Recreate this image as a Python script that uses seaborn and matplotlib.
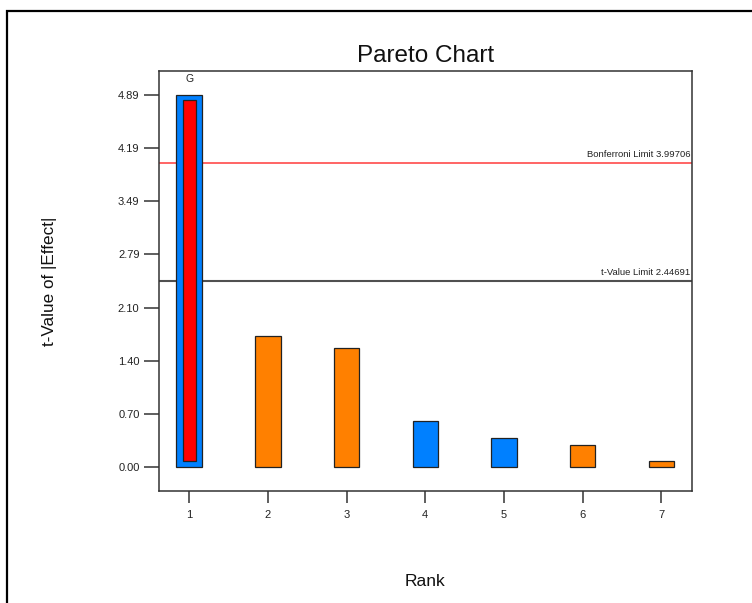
import numpy as np
import pandas as pd
import matplotlib
matplotlib.use("Agg")
import matplotlib.pyplot as plt
from matplotlib.patches import Rectangle
import seaborn as sns

# Effects ranked by |t-value|
ranks = ["1", "2", "3", "4", "5", "6", "7"]
t_values = [4.89, 1.72, 1.56, 0.61, 0.39, 0.29, 0.08]
effect_sign = ["neg", "pos", "pos", "neg", "neg", "pos", "pos"]
term_labels = ["G", "", "", "", "", "", ""]
selected = [True, False, False, False, False, False, False]

bonferroni_limit = 3.99706
t_value_limit = 2.44691

sign_colors = {"pos": "#FF8000", "neg": "#0080FF"}

df = pd.DataFrame({"Rank": ranks, "t": t_values, "sign": effect_sign})

sns.set_theme(style="white")
plt.rcParams["font.family"] = ["Liberation Sans", "DejaVu Sans"]

fig = plt.figure(figsize=(7.52, 6.03), dpi=100)
ax = fig.add_axes([0.2114, 0.1857, 0.7088, 0.6971])

# reference limit lines (drawn first so the bars sit on top)
ax.axhline(bonferroni_limit, color="#FF4A4A", lw=1.2, zorder=1)
ax.axhline(t_value_limit, color="#505050", lw=1.5, zorder=1)

sns.barplot(data=df, x="Rank", y="t", hue="sign", palette=sign_colors,
            saturation=1, dodge=False, width=0.325, edgecolor="#222222",
            linewidth=0.9, legend=False, ax=ax, zorder=2)

# highlight of the selected term: inset red bar inside the blue one
for i, (v, sel) in enumerate(zip(t_values, selected)):
    if sel:
        inset = 0.075
        ax.bar(i, v - 2 * inset, bottom=inset + 0.005, width=0.16,
               color="#FF0000", edgecolor="#222222", linewidth=0.9, zorder=3)

# term labels over bars
for i, (v, lab) in enumerate(zip(t_values, term_labels)):
    if lab:
        ax.annotate(lab, (i, v), xytext=(0, 8), textcoords="offset points",
                    ha="center", va="bottom", fontsize=7.5, color="#222222")

# limit annotations, right aligned at the axes edge
for val, txt in [(bonferroni_limit, "Bonferroni Limit %.5f" % bonferroni_limit),
                 (t_value_limit, "t-Value Limit %.5f" % t_value_limit)]:
    ax.annotate(txt, (1.0, val), xycoords=("axes fraction", "data"),
                xytext=(-1, 2.5), textcoords="offset points",
                ha="right", va="bottom", fontsize=6.8, color="#222222")

ax.set_xlim(-0.385, 6.39)
ax.set_ylim(-0.311, 5.205)

yt = np.linspace(0, max(t_values), 8)
ax.set_yticks(yt)
ax.set_yticklabels(["%.2f" % v for v in yt])

ax.tick_params(axis="y", direction="out", length=11, width=1.1, color="#333333",
               labelsize=8, pad=3, left=True, labelcolor="#222222")
ax.tick_params(axis="x", direction="out", length=8.5, width=1.1, color="#333333",
               labelsize=8, pad=5, bottom=True, labelcolor="#222222")

for side, sp in ax.spines.items():
    sp.set_visible(True)
    sp.set_color("#333333")
    sp.set_linewidth(1.1)

ax.set_xlabel("Rank", fontsize=12.5, color="#111111")
ax.set_ylabel("t-Value of |Effect|", fontsize=12.3, color="#111111")
ax.xaxis.set_label_coords(0.5, -0.198)
ax.yaxis.set_label_coords(-0.191, 0.5)

fig.text(0.566, 0.907, "Pareto Chart", ha="center", va="center",
         fontsize=17.5, color="#111111")

# outer frame (top and left edges visible)
fig.add_artist(Rectangle((6.5 / 752, -0.2), 1.2, 1.2 - 11 / 603,
                         transform=fig.transFigure, fill=False,
                         edgecolor="black", linewidth=1.6, clip_on=False))

fig.savefig("out.png", dpi=100)
